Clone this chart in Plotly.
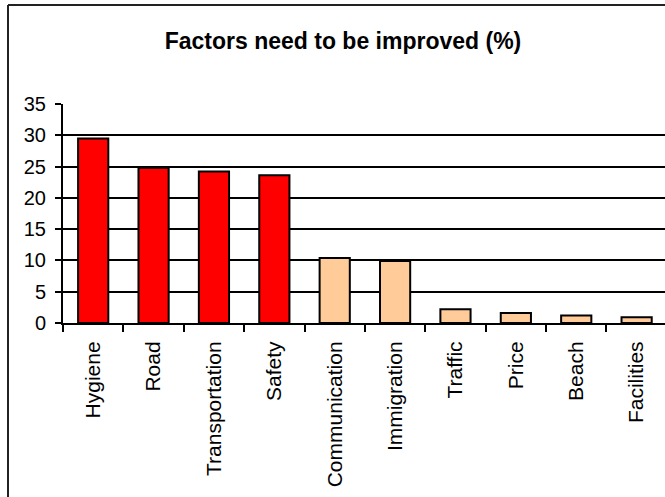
import plotly.graph_objects as go

# Survey results: share of respondents naming each factor (%)
factors = ["Hygiene", "Road", "Transportation", "Safety", "Communication",
           "Immigration", "Traffic", "Price", "Beach", "Facilities"]
shares = [29.5, 24.8, 24.2, 23.6, 10.4, 9.9, 2.2, 1.6, 1.2, 0.9]
# top four factors highlighted in red, the rest in light peach
bar_colors = ["#FF0000"] * 4 + ["#FFCC99"] * 6
y_ticks = [0, 5, 10, 15, 20, 25, 30, 35]

FONT = "Arial, 'Liberation Sans', sans-serif"
W, H = 665, 497
L, T, B = 63, 103.5, 173.5
PH = H - T - B  # plot-area height in pixels


def paper_y(py):
    """Convert a pixel row (from the top of the page) to paper units."""
    return (H - B - py) / PH


def paper_x(px):
    return (px - L) / (W - L)


fig = go.Figure(
    go.Bar(
        x=factors,
        y=shares,
        marker=dict(color=bar_colors, line=dict(color="black", width=2)),
        width=0.5,
    )
)

fig.update_layout(
    width=W,
    height=H,
    margin=dict(l=L, r=0, t=T, b=B, pad=0),
    paper_bgcolor="white",
    plot_bgcolor="white",
    showlegend=False,
    font=dict(family=FONT, size=20, color="black"),
    title=dict(
        text="<b>Factors need to be improved (%)</b>",
        font=dict(family=FONT, size=23, color="black"),
        x=343 / W,
        xanchor="center",
        y=1 - 41 / H,
        yanchor="middle",
    ),
    xaxis=dict(
        range=[-0.5, 9.47],
        tickangle=-90,
        tickson="boundaries",
        ticks="outside",
        ticklen=7,
        tickwidth=1.5,
        tickcolor="black",
        ticklabelstandoff=8,
        showline=True,
        linecolor="black",
        linewidth=2,
        showgrid=False,
        tickfont=dict(family=FONT, size=21, color="black"),
    ),
    yaxis=dict(
        range=[0, 35],
        tickvals=y_ticks,
        ticks="outside",
        ticklen=6,
        tickwidth=1.5,
        tickcolor="black",
        ticklabelstandoff=5,
        showline=True,
        linecolor="black",
        linewidth=2,
        showgrid=True,
        gridcolor="black",
        gridwidth=2,
        zeroline=False,
        tickfont=dict(family=FONT, size=20, color="black"),
    ),
    shapes=[
        # chart-area frame: left and top edges
        dict(type="line", xref="paper", yref="paper",
             x0=paper_x(8), x1=paper_x(8),
             y0=paper_y(510), y1=paper_y(4),
             line=dict(color="#222222", width=2)),
        dict(type="line", xref="paper", yref="paper",
             x0=paper_x(8), x1=1.02,
             y0=paper_y(4), y1=paper_y(4),
             line=dict(color="#222222", width=2)),
    ],
)

fig.write_html("out.html")
